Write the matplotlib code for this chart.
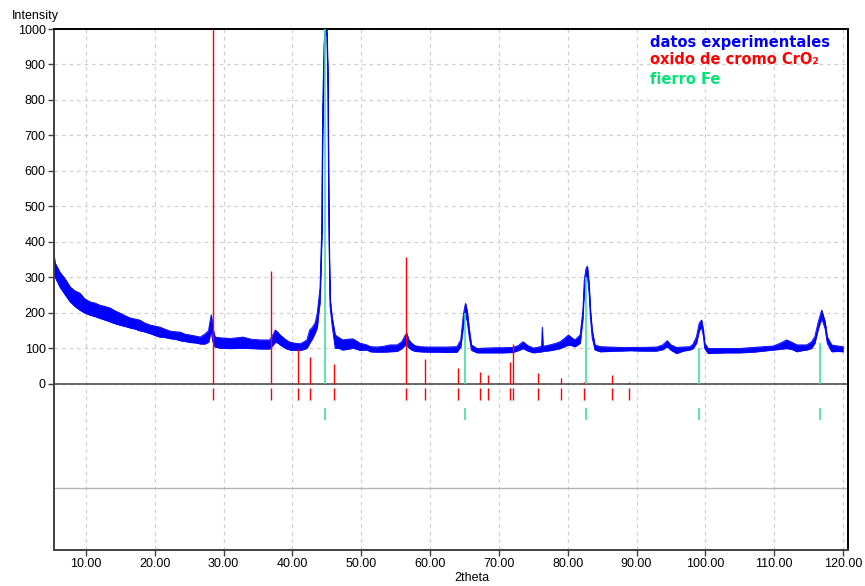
"""
plot.py
 Difractograma: datos experimentales vs patrones de CrO2 y Fe
"""
import numpy as np
import matplotlib.pyplot as plt

# datos experimentales (2theta, borde superior e inferior de la banda de ruido)
tt = [5.35, 5.5, 6.2, 7.0, 7.7, 8.4, 9.1, 9.8, 10.6, 11.3,
      12.0, 12.8, 13.5, 14.2, 14.9, 15.7, 16.4, 17.1, 17.8, 18.5,
      19.3, 20.0, 20.75, 21.5, 22.2, 23.0, 23.7, 24.4, 25.1, 25.9,
      26.6, 27.3, 27.8, 28.0, 28.2, 28.4, 28.75, 29.5, 31.0, 32.8,
      34.0, 35.3, 36.7, 37.2, 37.5, 37.9, 38.2, 39.0, 39.6, 40.3,
      41.1, 41.6, 42.1, 42.5, 42.9, 43.3, 43.6, 43.8, 44.0, 44.25,
      44.38, 44.58, 44.75, 44.87, 45.0, 45.16, 45.27, 45.45, 45.75, 46.2,
      46.8, 47.3, 48.0, 48.8, 49.8, 50.8, 51.3, 52.3, 53.2, 54.2,
      55.2, 55.9, 56.3, 56.6, 56.9, 57.3, 57.8, 58.5, 59.7, 61.0,
      62.4, 63.9, 64.45, 64.8, 65.0, 65.15, 65.4, 65.7, 66.0, 66.8,
      68.0, 69.3, 70.6, 72.0, 72.8, 73.5, 74.2, 75.0, 75.8, 76.2,
      76.3, 76.4, 77.4, 78.2, 78.9, 79.5, 80.1, 80.6, 81.05, 81.8,
      82.2, 82.4, 82.65, 82.85, 83.1, 83.3, 83.55, 83.95, 84.7, 86.0,
      87.5, 89.05, 91.0, 92.9, 93.8, 94.45, 95.0, 95.8, 96.8, 97.75,
      98.2, 98.7, 99.1, 99.45, 99.7, 99.9, 100.4, 101.5, 103.0, 105.0,
      107.0, 108.5, 109.9, 110.9, 111.8, 112.5, 113.3, 114.0, 114.7, 115.4,
      115.9, 116.4, 116.9, 117.4, 117.7, 118.35, 119.2, 120.0]
y_hi = [365, 341, 315, 295, 273, 262, 256, 240, 231, 228,
        222, 218, 214, 206, 200, 192, 186, 183, 180, 172,
        166, 163, 160, 154, 149, 147, 146, 140, 138, 135,
        132, 141, 150, 175, 195, 160, 132, 130, 128, 132,
        126, 124, 124, 140, 152, 145, 138, 125, 118, 115,
        113, 118, 124, 152, 160, 172, 200, 235, 270, 442,
        772, 955, 1000, 1000, 1000, 876, 510, 245, 189, 138,
        130, 124, 126, 127, 115, 110, 105, 104, 106, 110,
        110, 119, 135, 143, 125, 115, 108, 105, 104, 104,
        104, 105, 124, 190, 215, 227, 204, 152, 110, 100,
        101, 102, 102, 103, 108, 119, 108, 101, 104, 106,
        160, 106, 110, 114, 119, 128, 138, 130, 124, 138,
        208, 293, 325, 332, 284, 208, 152, 110, 105, 104,
        103, 103, 103, 104, 110, 122, 110, 103, 104, 105,
        112, 133, 171, 180, 152, 115, 100, 100, 100, 100,
        103, 105, 107, 115, 124, 118, 110, 110, 110, 118,
        133, 175, 208, 175, 133, 110, 107, 105]
y_lo = [300, 301, 273, 250, 231, 218, 208, 200, 194, 190,
        185, 180, 175, 170, 166, 162, 158, 155, 150, 147,
        142, 137, 132, 131, 128, 126, 122, 120, 117, 116,
        113, 113, 118, 135, 150, 120, 104, 101, 100, 101,
        100, 99, 99, 110, 118, 115, 110, 100, 96, 95,
        95, 97, 101, 115, 128, 144, 160, 200, 230, 400,
        700, 900, 1000, 1000, 980, 800, 460, 220, 165, 101,
        100, 96, 98, 101, 95, 96, 91, 90, 90, 91,
        92, 100, 108, 110, 102, 96, 92, 91, 90, 90,
        89, 90, 105, 160, 185, 195, 175, 130, 95, 88,
        88, 88, 88, 89, 94, 100, 93, 88, 90, 91,
        91, 92, 94, 97, 100, 105, 110, 108, 105, 115,
        185, 265, 300, 305, 255, 185, 130, 96, 91, 92,
        93, 94, 93, 93, 97, 105, 95, 86, 93, 96,
        100, 115, 150, 160, 135, 100, 86, 87, 88, 88,
        90, 93, 96, 98, 100, 98, 91, 94, 96, 100,
        115, 155, 185, 155, 115, 91, 92, 91]

# patron de referencia: oxido de cromo CrO2
cro2_pos = [28.45, 36.88, 40.85, 42.55, 46.0, 56.5, 59.26, 64.0, 67.2, 68.4,
            71.65, 72.0, 75.7, 78.98, 82.41, 86.39, 88.86]
cro2_int = [1000, 318, 99, 77, 56, 357, 70, 45, 34, 25,
            63, 113, 30, 16, 5, 25, 6]

# patron de referencia: fierro Fe
fe_pos = [44.73, 65.07, 82.6, 99.05, 116.6]
fe_int = [1000, 200, 300, 100, 115]

azul = '#0000ff'
rojo = '#ff0000'
verde = '#40e0a0'

fig = plt.figure(figsize=(8.65, 5.86), dpi=100)
ax = fig.add_axes([54/865, 1-550/586, (848-54)/865, (550-29)/586])
ax.set_axisbelow(True)

ax.fill_between(tt, y_lo, y_hi, color=azul, lw=0.4, zorder=2)
ax.plot(tt, y_hi, color=azul, lw=0.6, zorder=2)
ax.plot(tt, y_lo, color=azul, lw=0.6, zorder=2)

ax.vlines(cro2_pos, 0, cro2_int, color=rojo, lw=1.0, zorder=3)
ax.vlines(cro2_pos, -12, -45, color=rojo, lw=1.0, zorder=3)
ax.vlines(fe_pos, 0, fe_int, color=verde, lw=1.2, zorder=4)
ax.vlines(fe_pos, -68, -103, color=verde, lw=1.2, zorder=4)

ax.axhline(0, color='#505050', lw=1.2, zorder=1.8)
ax.axhline(-293, color='#b4b4b4', lw=1.0, zorder=1.8)

ax.set_xlim(5.35, 120.73)
ax.set_ylim(-468, 1000)
ax.set_xticks(np.arange(10, 121, 10))
ax.set_xticklabels(['%.2f' % v for v in np.arange(10, 121, 10)])
ax.set_yticks(np.arange(0, 1001, 100))

ax.grid(True, color='#d0d0d0', ls=(0, (3, 3)), lw=0.9)
ax.tick_params(labelsize=9, length=4, width=1, color='#404040', pad=2)
for f in ax.get_xticklabels() + ax.get_yticklabels():
    f.set_family('Liberation Sans')

ax.spines['left'].set_color('#404040')
ax.spines['bottom'].set_color('#404040')
ax.spines['top'].set_color('black')
ax.spines['right'].set_color('black')
for s in ax.spines.values():
    s.set_linewidth(1.4)

fig.text(12/865, 1-16/586, 'Intensity', fontsize=9, family='Liberation Sans', va='center')
fig.text(472/865, 1-578/586, '2theta', fontsize=9, family='Liberation Sans', va='center', ha='center')

fig.text(650/865, 1-42/586, 'datos experimentales', color=azul, fontsize=10.5, weight='bold', va='center')
fig.text(650/865, 1-60/586, 'oxido de cromo CrO₂', color=rojo, fontsize=10.5, weight='bold', va='center')
fig.text(650/865, 1-79/586, 'fierro Fe', color='#00e676', fontsize=10.5, weight='bold', va='center')

plt.savefig('out.png', dpi=100)
